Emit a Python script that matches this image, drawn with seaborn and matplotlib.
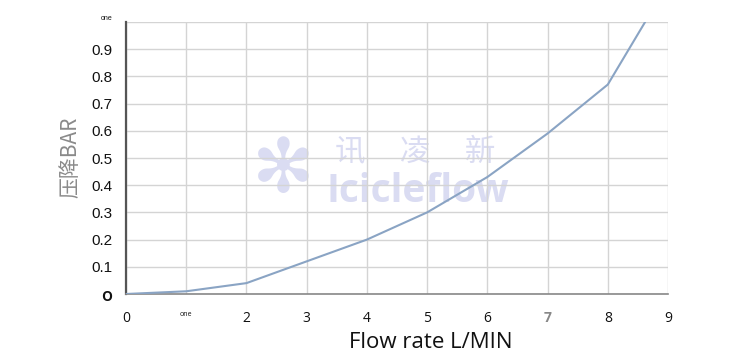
import matplotlib
matplotlib.use("Agg")
import matplotlib.pyplot as plt
import seaborn as sns
import pandas as pd

flow = [0, 1, 2, 3, 4, 5, 6, 7, 8, 8.62]
pressure = [0.0, 0.01, 0.04, 0.12, 0.2, 0.3, 0.43, 0.59, 0.77, 1.0]
x_ticks = [0, 1, 2, 3, 4, 5, 6, 7, 8, 9]
x_labels = ["0", "one", "2", "3", "4", "5", "6", "7", "8", "9"]
y_ticks = [0, 0.1, 0.2, 0.3, 0.4, 0.5, 0.6, 0.7, 0.8, 0.9, 1.0]
y_labels = ["o", "0.1", "0.2", "0.3", "0.4", "0.5", "0.6", "0.7", "0.8", "0.9", "one"]

sns.set_theme(style="whitegrid")
plt.rcParams['font.family'] = ['Open Sans', 'Noto Sans CJK SC', 'DejaVu Sans']

df = pd.DataFrame({"flow": flow, "pressure": pressure})

fig = plt.figure(figsize=(7.51, 3.54), dpi=100)
ax = fig.add_axes([126/751, 60/354, 542/751, 272/354])

# watermark
ax.text(0.385, 0.52, "讯     凌     新", transform=ax.transAxes, fontsize=22,
        color="#dadcf2", family=["Noto Sans CJK SC"], ha="left", va="center", zorder=0)
ax.text(0.37, 0.375, "Icicleflow", transform=ax.transAxes, fontsize=28, fontweight="bold",
        color="#dadcf2", ha="left", va="center", zorder=0)
ax.text(0.29, 0.45, "✻", transform=ax.transAxes, fontsize=54,
        color="#dadcf2", family=["DejaVu Sans"], ha="center", va="center", zorder=0)

sns.lineplot(data=df, x="flow", y="pressure", ax=ax, color="#8aa4c4", linewidth=1.5, zorder=3)

ax.set_xlim(0, 9)
ax.set_ylim(0, 1.0)
ax.set_xticks(x_ticks)
ax.set_xticklabels(x_labels)
ax.set_yticks(y_ticks)
ax.set_yticklabels(y_labels)
ax.grid(True, color="#d4d4d4", linewidth=1.0)
ax.set_facecolor("white")

for lbl in ax.get_xticklabels():
    lbl.set_fontsize(10)
    lbl.set_color("#111111")
    if lbl.get_text() == "one":
        lbl.set_fontsize(5)
    if lbl.get_text() == "7":
        lbl.set_color("#888888")
        lbl.set_fontweight("bold")
for lbl in ax.get_yticklabels():
    lbl.set_fontsize(11)
    lbl.set_family(["Liberation Sans"])
    lbl.set_color("#111111")
    if lbl.get_text() == "one":
        lbl.set_fontsize(5)
        lbl.set_verticalalignment("bottom")
    if lbl.get_text() == "o":
        lbl.set_fontsize(13)
        lbl.set_family(["Open Sans"])
        lbl.set_fontweight("semibold")

ax.tick_params(axis="x", pad=12, length=0)
ax.tick_params(axis="y", pad=10, length=0)

for s in ["top", "right"]:
    ax.spines[s].set_visible(False)
ax.spines["left"].set_color("#555555")
ax.spines["left"].set_linewidth(1.6)
ax.spines["bottom"].set_color("#888888")
ax.spines["bottom"].set_linewidth(1.2)

ax.set_xlabel("")
ax.set_ylabel("")
fig.text(70/751, (354 - 157)/354, "压降BAR", rotation=90, fontsize=15, color="#8a8a8a",
         family=["Noto Sans CJK SC"], ha="center", va="center")
fig.text(431/751, 11/354, "Flow rate L/MIN", fontsize=16, color="#111111",
         ha="center", va="center")

fig.savefig("out.png", dpi=100)
